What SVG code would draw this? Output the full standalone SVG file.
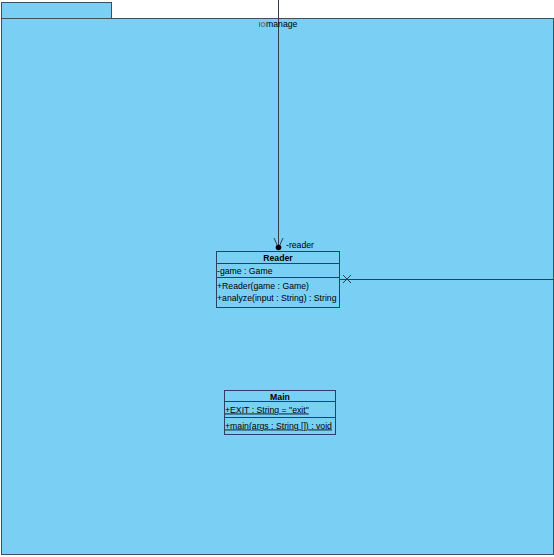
<svg xmlns="http://www.w3.org/2000/svg" width="554" height="557" viewBox="0 0 554 557">
<style>
.pkg{fill:#7ACFF5;stroke:#3F4F5F;stroke-width:1}
.box{fill:#7ACFF5;stroke:#2F3F5F;stroke-width:1}
.ln{stroke:#2F3F4F;stroke-width:1;fill:none}
text{font-family:"Liberation Sans",Arial,sans-serif;font-size:8.7px;fill:#000}
.b{font-weight:bold;text-anchor:middle}
.u{text-decoration:underline}
</style>
<rect width="554" height="557" fill="#fff"/>
<g id="package">
<rect class="pkg" x="1.5" y="2.5" width="110" height="16"/>
<rect class="pkg" x="1.5" y="18.5" width="552" height="536"/>
</g>
<g id="connectors">
<line class="ln" x1="278.5" y1="0" x2="278.5" y2="246"/>
<polyline class="ln" points="274,238 278.5,248 283,238" stroke-width="1.2"/>
<circle cx="278.5" cy="247.5" r="2.8" fill="#000"/>
<text x="286" y="248">-reader</text>
<g fill="none" stroke="#555" stroke-width="0.8"><line x1="259.5" y1="22" x2="259.5" y2="27"/><circle cx="263" cy="24.5" r="2"/></g>
<text x="266" y="27">manage</text>
<line class="ln" x1="339" y1="279.5" x2="554" y2="279.5"/>
<path class="ln" d="M343,275 L351,283 M351,275 L343,283"/>
</g>
<g id="Reader">
<rect class="box" x="216.5" y="251.5" width="123" height="56"/>
<line class="ln" x1="216.5" y1="263.5" x2="339.5" y2="263.5"/>
<line class="ln" x1="216.5" y1="277.5" x2="339.5" y2="277.5"/>
<text class="b" x="278" y="261">Reader</text>
<text x="217" y="273.5">-game : Game</text>
<text x="217" y="288.5">+Reader(game : Game)</text>
<text x="217" y="300.5">+analyze(input : String) : String</text>
</g>
<g id="Main">
<rect class="box" x="224.5" y="390.5" width="111" height="44"/>
<line class="ln" x1="224.5" y1="401.5" x2="335.5" y2="401.5"/>
<line class="ln" x1="224.5" y1="417.5" x2="335.5" y2="417.5"/>
<text class="b" x="280" y="399.5">Main</text>
<text class="u" x="225" y="412.5">+EXIT : String = "exit"</text>
<text class="u" x="225" y="428.5">+main(args : String []) : void</text>
</g>
</svg>
